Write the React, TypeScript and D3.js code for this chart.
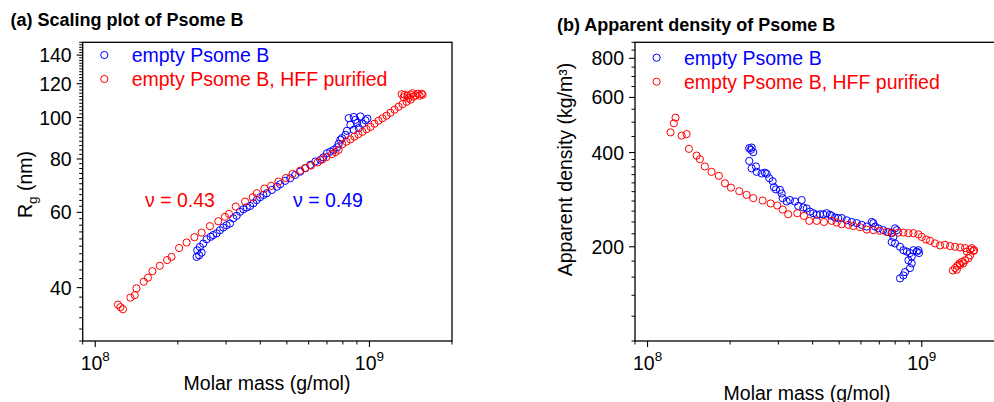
import React from "react";
import * as d3 from "d3";

// ---------- Data: panel (a) scaling plot ----------
const blueMassA = [2.342e8, 2.393e8, 2.443e8, 2.354e8, 2.407e8, 2.476e8, 2.547e8, 2.635e8, 2.693e8, 2.771e8,
  2.849e8, 2.929e8, 3.014e8, 3.1e8, 3.187e8, 3.28e8, 3.373e8, 3.468e8, 3.568e8, 3.669e8,
  3.772e8, 3.882e8, 3.991e8, 4.104e8, 4.223e8, 4.406e8, 4.596e8, 4.726e8, 4.929e8, 5.14e8,
  5.36e8, 5.59e8, 5.833e8, 6.084e8, 6.346e8, 6.62e8, 6.79e8, 7.0e8, 7.2e8, 7.4e8,
  7.62e8, 7.72e8, 7.83e8, 7.94e8, 8.17e8, 8.28e8, 8.76e8, 9.14e8, 8.52e8, 9.02e8,
  8.4e8, 8.76e8, 9.27e8, 9.67e8, 9.43e8, 9.83e8, 8.89e8];
const blueRgA = [47.2, 47.6, 48.3, 48.9, 49.8, 50.7, 51.9, 52.6, 53.1, 53.6,
  54.5, 55.3, 56.0, 56.5, 58.1, 58.9, 60.2, 61.0, 61.6, 62.1,
  63.0, 64.1, 65.1, 65.9, 66.5, 67.7, 68.9, 69.8, 71.1, 72.1,
  73.4, 74.7, 76.1, 77.5, 78.9, 79.6, 80.7, 82.5, 83.2, 84.0,
  85.2, 86.8, 88.7, 89.5, 91.1, 93.1, 93.6, 94.5, 96.2, 97.1,
  99.7, 100.3, 100.6, 98.5, 96.7, 99.4, 98.8];

const redMassA = [1.21e8, 1.235e8, 1.262e8, 1.343e8, 1.393e8, 1.413e8, 1.502e8, 1.557e8, 1.616e8, 1.719e8,
  1.828e8, 1.897e8, 2.022e8, 2.153e8, 2.299e8, 2.443e8, 2.62e8, 2.81e8, 2.972e8, 3.074e8,
  3.253e8, 3.519e8, 3.754e8, 3.882e8, 4.14e8, 4.38e8, 4.658e8, 4.958e8, 5.242e8, 5.59e8,
  5.833e8, 6.118e8, 6.468e8, 6.73e8, 6.962e8, 7.3e8, 7.51e8, 7.72e8, 7.96e8, 8.24e8,
  8.52e8, 8.81e8, 9.11e8, 9.43e8, 9.75e8, 1.009e9, 1.043e9, 1.079e9, 1.116e9, 1.154e9,
  1.193e9, 1.234e9, 1.277e9, 1.321e9, 1.366e9, 1.413e9, 1.31e9, 1.343e9, 1.377e9, 1.413e9,
  1.449e9, 1.474e9, 1.499e9, 1.524e9, 1.55e9, 1.562e9, 1.436e9, 1.332e9, 1.389e9];
const redRgA = [36.5, 36.0, 35.6, 37.9, 38.4, 39.85, 41.3, 42.2, 43.7, 45.0,
  46.4, 47.2, 49.5, 51.0, 52.5, 53.8, 55.7, 57.2, 58.6, 59.5,
  61.9, 63.6, 65.1, 66.5, 68.2, 69.2, 70.8, 72.2, 73.8, 75.1,
  76.2, 77.2, 78.5, 79.8, 80.8, 82.1, 83.0, 84.0, 86.6, 87.8,
  88.9, 90.2, 91.4, 92.6, 93.9, 95.1, 96.7, 98.3, 99.6, 101.0,
  102.6, 104.3, 106.0, 107.5, 108.9, 110.1, 113.4, 113.1, 112.5, 113.1,
  111.9, 112.8, 113.7, 112.5, 113.7, 113.1, 114.0, 111.6, 111.0];

// ---------- Data: panel (b) apparent density ----------
const blueMassB = [2.349e8, 2.382e8, 2.429e8, 2.397e8, 2.349e8, 2.397e8, 2.485e8, 2.5e8, 2.607e8, 2.68e8,
  2.719e8, 2.779e8, 2.859e8, 2.89e8, 2.939e8, 3.04e8, 3.083e8, 3.109e8, 3.216e8, 3.306e8,
  3.448e8, 3.545e8, 3.648e8, 3.698e8, 3.805e8, 3.912e8, 4.022e8, 4.139e8, 4.255e8, 4.375e8,
  4.501e8, 4.627e8, 4.694e8, 4.826e8, 4.961e8, 5.105e8, 5.325e8, 5.553e8, 5.792e8, 6.04e8,
  6.3e8, 6.57e8, 6.66e8, 6.755e8, 6.945e8, 7.24e8, 7.55e8, 7.77e8, 7.99e8, 8.11e8,
  7.88e8, 7.77e8, 7.99e8, 8.33e8, 8.57e8, 8.82e8, 9.06e8, 9.32e8, 9.59e8, 9.72e8,
  9.19e8, 8.94e8, 9.19e8, 9.06e8, 8.69e8, 8.57e8, 8.33e8, 9.77e8];
const blueDensityB = [413, 408, 401, 415, 376, 356, 361, 347, 343, 345,
  342, 331, 324, 310, 305, 304, 296, 286, 279, 282,
  279, 270, 282, 267, 265, 259, 256, 253, 254, 254,
  256, 253, 251, 248, 247, 247, 243, 240, 238, 235,
  232, 240, 238, 232, 229, 226, 223, 221, 229, 226,
  215, 207, 205, 200, 195, 193, 191, 195, 193, 195,
  186, 181, 177, 171, 166, 162, 158.5, 191];

const redMassB = [1.213e8, 1.247e8, 1.265e8, 1.331e8, 1.388e8, 1.415e8, 1.51e8, 1.552e8, 1.618e8, 1.712e8,
  1.82e8, 1.915e8, 2.014e8, 2.16e8, 2.298e8, 2.429e8, 2.629e8, 2.811e8, 2.972e8, 3.109e8,
  3.259e8, 3.516e8, 3.719e8, 3.889e8, 4.139e8, 4.4e8, 4.694e8, 4.896e8, 5.105e8, 5.396e8,
  5.628e8, 5.954e8, 6.3e8, 6.66e8, 7.04e8, 7.45e8, 7.77e8, 8.21e8, 8.57e8, 8.94e8,
  9.32e8, 9.72e8, 1.0e9, 1.037e9, 1.072e9, 1.118e9, 1.166e9, 1.216e9, 1.269e9, 1.323e9,
  1.38e9, 1.439e9, 1.501e9, 1.543e9, 1.46e9, 1.522e9, 1.552e9, 1.501e9, 1.48e9, 1.439e9,
  1.4e9, 1.372e9, 1.349e9, 1.323e9, 1.298e9, 1.342e9, 1.38e9, 1.418e9];
const redDensityB = [464, 496, 517, 453, 458, 411, 391, 381, 361, 347,
  337, 319, 309, 301, 293, 286, 281, 275, 271, 263,
  254, 256, 251, 242, 242, 240, 242, 239, 236, 235,
  233, 231, 227, 226, 225, 223, 222, 222, 222, 221,
  221, 219, 215, 211, 209, 205, 202, 203, 201, 200,
  199, 198, 196, 194, 193, 198, 195, 188, 184, 181,
  179, 177, 174, 171, 168, 169, 175, 177];

// ---------- Axes / labels ----------
const xMajor = [1e8, 1e9];
const xExponents = ["8", "9"];
const xMinor = [9e7, 2e8, 3e8, 4e8, 5e8, 6e8, 7e8, 8e8, 9e8, 2e9];
const yMajorA = [40, 60, 80, 100, 120, 140];
const yMajorB = [200, 400, 600, 800];
const seriesNames = ["empty Psome B", "empty Psome B, HFF purified"];
const exponentLabels = ["ν = 0.43", "ν = 0.49"];

const BLUE = "#0000ff";
const RED = "#ff0000";
const FONT = "'Liberation Sans', Arial, Helvetica, sans-serif";
const FS = 19.5;

const W = 369.3;
const TOP = 42.3;
const BOTTOM = 341;

function Panel({ left, xDomain, yDomain, yMajor, yMinor, blue, red, yLabel, legendY, xLabelX, xLabelY, extra }: any) {
  const x = d3.scaleLog().domain(xDomain).range([left, left + W]);
  const y = d3.scaleLog().domain(yDomain).range([BOTTOM, TOP]);
  const r = 3.6;
  return (
    <g fontFamily={FONT}>
      {blue[0].map((m: number, i: number) => (
        <circle key={"b" + i} cx={x(m)} cy={y(blue[1][i])} r={r} fill="none" stroke={BLUE} strokeWidth={1} />
      ))}
      {red[0].map((m: number, i: number) => (
        <circle key={"r" + i} cx={x(m)} cy={y(red[1][i])} r={r} fill="none" stroke={RED} strokeWidth={1} />
      ))}
      <rect x={left} y={TOP} width={W} height={BOTTOM - TOP} fill="none" stroke="#000" strokeWidth={1.3} />
      {xMajor.map((t, i) => (
        <g key={"xm" + i}>
          <line x1={x(t)} x2={x(t)} y1={BOTTOM} y2={BOTTOM + 6} stroke="#000" strokeWidth={1.1} />
          <text x={x(t)} y={370} textAnchor="middle" fontSize={FS}>
            10<tspan dy={-9} fontSize={13.5}>{xExponents[i]}</tspan>
          </text>
        </g>
      ))}
      {xMinor.map((t, i) => (
        <line key={"xn" + i} x1={x(t)} x2={x(t)} y1={BOTTOM} y2={BOTTOM + 3.5} stroke="#000" strokeWidth={1} />
      ))}
      {yMajor.map((t: number, i: number) => (
        <g key={"ym" + i}>
          <line x1={left - 6} x2={left} y1={y(t)} y2={y(t)} stroke="#000" strokeWidth={1.1} />
          <text x={left - 11} y={y(t)} dy="0.36em" textAnchor="end" fontSize={FS}>{t}</text>
        </g>
      ))}
      {yMinor.map((t: number, i: number) => (
        <line key={"yn" + i} x1={left - 3.5} x2={left} y1={y(t)} y2={y(t)} stroke="#000" strokeWidth={1} />
      ))}
      <text x={xLabelX} y={xLabelY} textAnchor="middle" fontSize={FS}>Molar mass (g/mol)</text>
      {yLabel}
      <circle cx={left + 21.6} cy={legendY} r={r} fill="none" stroke={BLUE} strokeWidth={1} />
      <text x={left + 49} y={legendY + 7} fontSize={FS} fill={BLUE}>{seriesNames[0]}</text>
      <circle cx={left + 21.6} cy={legendY + 24} r={r} fill="none" stroke={RED} strokeWidth={1} />
      <text x={left + 49} y={legendY + 31} fontSize={FS} fill={RED}>{seriesNames[1]}</text>
      {extra}
    </g>
  );
}

export default function App() {
  const yMinorA = d3.range(30, 151, 2).filter((v) => !yMajorA.includes(v));
  const yMinorB = [
    ...d3.range(100, 400, 20),
    ...d3.range(450, 901, 50),
  ].filter((v) => !yMajorB.includes(v));
  return (
    <svg width={994} height={402} style={{ position: "absolute", left: 0, top: 0, background: "#fff" }}>
      <rect x={0} y={0} width={994} height={402} fill="#fff" />
      <text x={10.5} y={26} fontFamily={FONT} fontWeight="bold" fontSize={18}>(a) Scaling plot of Psome B</text>
      <text x={557} y={30.5} fontFamily={FONT} fontWeight="bold" fontSize={18}>(b) Apparent density of Psome B</text>
      <Panel
        left={82.7}
        xDomain={[9e7, 2e9]}
        yDomain={[30, 150]}
        yMajor={yMajorA}
        yMinor={yMinorA}
        blue={[blueMassA, blueRgA]}
        red={[redMassA, redRgA]}
        legendY={55}
        xLabelX={267}
        xLabelY={390}
        yLabel={
          <text transform="translate(31.7,184.5) rotate(-90)" textAnchor="middle" fontSize={FS}>
            R<tspan dy={5} fontSize={13.5}>g</tspan><tspan dy={-5}> (nm)</tspan>
          </text>
        }
        extra={
          <g fontSize={FS}>
            <text x={145} y={207} fill={RED}>{exponentLabels[0]}</text>
            <text x={293} y={207} fill={BLUE}>{exponentLabels[1]}</text>
          </g>
        }
      />
      <Panel
        left={635}
        xDomain={[9e7, 2e9]}
        yDomain={[100, 900]}
        yMajor={yMajorB}
        yMinor={yMinorB}
        blue={[blueMassB, blueDensityB]}
        red={[redMassB, redDensityB]}
        legendY={57.7}
        xLabelX={807}
        xLabelY={399.5}
        yLabel={
          <text transform="translate(572,169.5) rotate(-90)" textAnchor="middle" fontSize={FS}>
            Apparent density (kg/m³)
          </text>
        }
        extra={null}
      />
    </svg>
  );
}
